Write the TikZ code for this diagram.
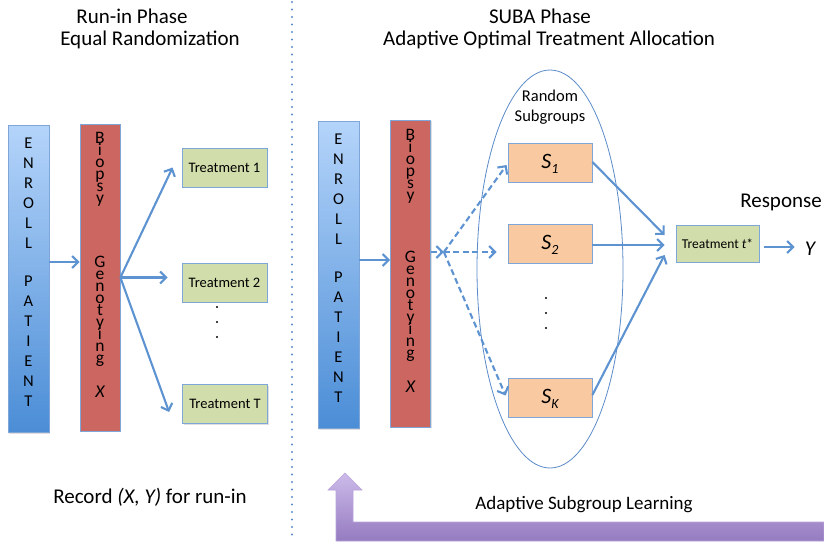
\documentclass[tikz,border=0pt]{standalone}
\usepackage{fontspec}
\setmainfont{Carlito}
\usetikzlibrary{arrows.meta,calc,shapes.geometric,shadows}

\definecolor{enrollTop}{HTML}{B4D4FA}
\definecolor{enrollBot}{HTML}{4B8DD6}
\definecolor{genoRed}{HTML}{CC6660}
\definecolor{treatGreen}{HTML}{D1DDAB}
\definecolor{subOrange}{HTML}{F9CAA2}
\definecolor{boxLine}{HTML}{7EA6D9}
\definecolor{arrowBlue}{HTML}{5E93D1}
\definecolor{ringBlue}{HTML}{5B8BC9}
\definecolor{purpTop}{HTML}{CDBBEA}
\definecolor{purpBot}{HTML}{957BC0}
\definecolor{purpLine}{HTML}{B6A3DA}

% tightly stacked letters
\newcommand{\tightletters}{\fontsize{17.5}{12}\selectfont\lineskiplimit=-20pt\relax\lineskip=0pt\relax}

\begin{document}
\begin{tikzpicture}[x=1pt,y=-1pt,
  box/.style={rectangle, draw=boxLine, line width=0.8pt, inner sep=0pt,
    drop shadow={shadow xshift=1pt, shadow yshift=-1.2pt, opacity=0.25}},
  enrollbox/.style={box, top color=enrollTop, bottom color=enrollBot,
    minimum width=41pt, minimum height=307pt},
  genobox/.style={box, fill=genoRed, minimum width=40pt, minimum height=307pt},
  treatbox/.style={box, fill=treatGreen, minimum width=85pt, minimum height=39pt,
    font=\fontsize{14.5}{16}\selectfont},
  subbox/.style={box, fill=subOrange, minimum width=84pt, minimum height=39pt},
  stack/.style={align=center, inner sep=0pt,
    font=\fontsize{16.5}{20}\selectfont},
  tight/.style={align=center, inner sep=0pt, anchor=north, font=\tightletters},
  big/.style={font=\fontsize{21}{24}\selectfont, inner sep=0pt},
  arr/.style={draw=arrowBlue, line width=2.1pt,
    -{Straight Barb[length=6pt,width=12pt]}},
  darr/.style={arr, dash pattern=on 6pt off 3.5pt},
  subl/.style={font=\fontsize{22}{24}\selectfont\itshape}
]
\useasboundingbox (0,0) rectangle (824,542);

% phase separator
\draw[ringBlue, line width=2.2pt, line cap=round, dash pattern=on 0pt off 7.5pt]
  (292,2) -- (292,542);

% headings
\node[big] (h1a) at (132,16) {Run-in Phase};
\node[big] (h1b) at (150,40) {Equal Randomization};
\node[big] (h2a) at (540,16) {SUBA Phase};
\node[big] (h2b) at (549,40) {Adaptive Optimal Treatment Allocation};

% ---------- run-in phase ----------
\node[enrollbox] (en1) at (28.5,279) {};
\node[stack] (en1t) at (28.5,272) {E\\N\\R\\O\\L\\L\\[18pt]P\\A\\T\\I\\E\\N\\T};
\node[genobox] (bg1) at (100,277.5) {};
\node[tight] (bg1a) at (100,132) {B\\i\\o\\p\\s\\y};
\node[tight] (bg1b) at (100,256) {G\\e\\n\\o\\t\\y\\i\\n\\g};
\node[font=\fontsize{18}{18}\selectfont\itshape, inner sep=0pt] (bg1x) at (100,392) {X};

\node[treatbox] (t1) at (224.5,167.5) {Treatment 1};
\node[treatbox] (t2) at (224.5,282.5) {Treatment 2};
\node[treatbox] (tt) at (225,404) {Treatment T};
\foreach \yy in {307,322,337} \fill (217,\yy) circle (1.2pt);

\draw[arr] ($(en1.east)+(0,-17)$) -- ($(bg1.west)+(0,-15.5)$);
\draw[arr] (bg1.east) -- ($(t1.west)+(-9,0)$);
\draw[arr] (bg1.east) -- ($(t2.west)+(-14,-5)$);
\draw[arr] (bg1.east) -- ($(tt.west)+(-13,8)$);

\node[big] (rec) at (150,497) {Record \textit{(X, Y)} for run-in};

% ---------- SUBA phase ----------
\node[enrollbox] (en2) at (338.5,275) {};
\node[stack] (en2t) at (338.5,268) {E\\N\\R\\O\\L\\L\\[18pt]P\\A\\T\\I\\E\\N\\T};
\node[genobox] (bg2) at (410.5,273.5) {};
\node[tight] (bg2a) at (410.5,129) {B\\i\\o\\p\\s\\y};
\node[tight] (bg2b) at (410.5,251) {G\\e\\n\\o\\t\\y\\i\\n\\g};
\node[font=\fontsize{18}{18}\selectfont\itshape, inner sep=0pt] (bg2x) at (410.5,387) {X};

\draw[arr] ($(en2.east)+(0,-15)$) -- ($(bg2.west)+(0,-13.5)$);

% random subgroups
\node[ellipse, draw=ringBlue, line width=0.8pt, minimum width=146pt,
  minimum height=398pt, inner sep=0pt] (grp) at (550,269) {};
\node[align=center, inner sep=0pt, font=\fontsize{16.5}{20}\selectfont]
  (grpt) at (550,107) {Random\\Subgroups};

\node[subbox] (s1) at (550,162.5) {};
\node[subl] at (550,164) {S\raisebox{-5pt}{\fontsize{14}{14}\selectfont 1}};
\node[subbox] (s2) at (550,243.5) {};
\node[subl] at (550,245) {S\raisebox{-5pt}{\fontsize{14}{14}\selectfont 2}};
\node[subbox] (sk) at (550,397.5) {};
\node[subl] at (550,399) {S\raisebox{-5pt}{\fontsize{14}{14}\selectfont K}};
\foreach \yy in {298,313,328} \fill (546,\yy) circle (1.2pt);

\coordinate (split) at ($(bg2.east)+(13,-21.5)$);
\draw[darr] ($(bg2.east)+(0,-21.5)$) -- (split);
\draw[darr] (split) -- ($(s1.west)+(-1,2.5)$);
\draw[darr] (split) -- ($(s2.west)+(-11,8.5)$);
\draw[darr] (split) -- ($(sk.west)+(-2,-2)$);

% chosen treatment and response
\node[treatbox, minimum width=83pt, minimum height=37pt,
  font=\fontsize{13.5}{15}\selectfont] (ts) at (717.5,243.5) {Treatment \textit{t}*};
\draw[arr] ($(s1.east)+(0,-0.5)$) -- ($(ts.west)+(-11,-8.5)$);
\draw[arr] ($(s2.east)+(0,1.5)$) -- ($(ts.west)+(-11,1.5)$);
\draw[arr] ($(sk.east)+(0,-2.5)$) -- ($(ts.west)+(-11,11.5)$);

\node[big] (resp) at (781,202) {Response};
\node[big, font=\fontsize{21}{24}\selectfont\itshape] (yout) at (810,249) {Y};
\draw[arr] ($(ts.east)+(5,3.5)$) -- ($(yout.west)+(-10,-2)$);

% feedback loop
\shade[top color=purpTop, bottom color=purpBot, draw=purpLine, line width=0.6pt]
  (336,541) -- (336,490) -- (328,490) -- (345,473) -- (362,490) -- (353,490)
  -- (353,522) -- (824,522) -- (824,541) -- cycle;
\node[font=\fontsize{19}{22}\selectfont, inner sep=0pt] (learn) at (584,505)
  {Adaptive Subgroup Learning};
\end{tikzpicture}
\end{document}
